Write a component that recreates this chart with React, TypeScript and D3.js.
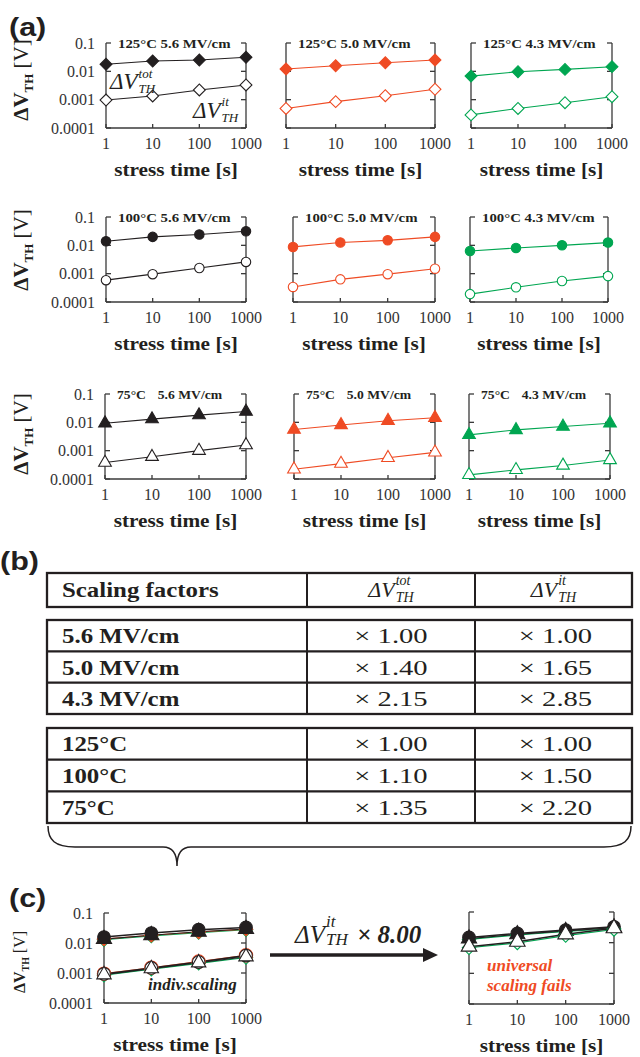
import React, { useEffect, useRef } from 'react';
import * as d3 from 'd3';

// stress times and axis ticks
const times = [1, 10, 100, 1000];
const xTickLabels = ['1', '10', '100', '1000'];
const yTicks = [0.1, 0.01, 0.001, 0.0001];
const yTickLabels = ['0.1', '0.01', '0.001', '0.0001'];

const temps = ['125°C', '100°C', '75°C'];
const fields = ['5.6 MV/cm', '5.0 MV/cm', '4.3 MV/cm'];

// (a) total dVth, one array per field (5.6, 5.0, 4.3)
const tot125 = [
  [0.0177, 0.0231, 0.025, 0.0313],
  [0.0121, 0.0158, 0.0202, 0.025],
  [0.0068, 0.0097, 0.0117, 0.0146],
];
const it125 = [
  [0.00097, 0.00135, 0.0022, 0.0033],
  [0.00049, 0.00085, 0.00138, 0.00233],
  [0.00029, 0.00049, 0.00078, 0.00127],
];
const tot100 = [
  [0.014, 0.0199, 0.024, 0.0315],
  [0.0088, 0.0126, 0.015, 0.0199],
  [0.0063, 0.0081, 0.01, 0.0125],
];
const it100 = [
  [0.00059, 0.00096, 0.00159, 0.0026],
  [0.00034, 0.00063, 0.00096, 0.0015],
  [0.00019, 0.00033, 0.00055, 0.00082],
];
const tot75 = [
  [0.0093, 0.013, 0.018, 0.024],
  [0.0056, 0.0081, 0.0114, 0.0145],
  [0.0036, 0.0054, 0.0071, 0.0093],
];
const it75 = [
  [0.00038, 0.00061, 0.001, 0.00158],
  [0.00022, 0.00035, 0.00056, 0.00087],
  [0.00014, 0.00021, 0.0003, 0.00047],
];

// (b) table
const fieldFactorsTot = ['× 1.00', '× 1.40', '× 2.15'];
const fieldFactorsIt = ['× 1.00', '× 1.65', '× 2.85'];
const tempFactorsTot = ['× 1.00', '× 1.10', '× 1.35'];
const tempFactorsIt = ['× 1.00', '× 1.50', '× 2.20'];

// (c) scaled data, left: individual scaling
const indivTotGreen = [0.0128, 0.0172, 0.0222, 0.0275];
const indivTotOrange = [0.0136, 0.0182, 0.0232, 0.029];
const indivTotTriangle = [0.0135, 0.0182, 0.0236, 0.0292];
const indivTotCircle = [0.0158, 0.0215, 0.0278, 0.033];
const indivItGreen = [0.00084, 0.00134, 0.0021, 0.0033];
const indivItOrange = [0.00095, 0.0015, 0.0024, 0.0039];
const indivItCircle = [0.00093, 0.00147, 0.00232, 0.0038];
const indivItTriangle = [0.00088, 0.0014, 0.0022, 0.0035];
// (c) right: universal x8.00
const univTotGreen = [0.0128, 0.0178, 0.023, 0.029];
const univTotTriangle = [0.0135, 0.0186, 0.024, 0.031];
const univTotCircle = [0.0148, 0.02, 0.0257, 0.033];
const univItGreen = [0.0068, 0.0098, 0.017, 0.027];
const univItTriangle = [0.0074, 0.0107, 0.0187, 0.0294];

const SERIF = '"Liberation Serif", "Times New Roman", serif';
const SANS = '"Liberation Sans", Arial, sans-serif';
const INK = '#231f20';
const AXIS = '#3a3a3a';
const ORANGE = '#ef4b24';
const GREEN = '#00a651';

type Series = { values: number[]; shape: string; color: string; filled: boolean; size?: number; lineColor?: string; lineWidth?: number };

const symbolType = (shape: string) =>
  shape === 'circle' ? d3.symbolCircle : shape === 'triangle' ? d3.symbolTriangle : d3.symbolSquare;

// widen a text node by factor k (the source figure is stretched horizontally)
const stretch = (sel: any, k: number) =>
  sel.each(function (this: SVGTextElement) {
    const len = this.getComputedTextLength();
    d3.select(this).attr('textLength', len * k).attr('lengthAdjust', 'spacingAndGlyphs');
  });

// ΔV with super- and subscript
function mathLabel(g: any, x: number, y: number, sup: string, sub: string, size: number, small: number, supDy: number, subDy: number, center = false) {
  const grp = g.append('g');
  const main = grp.append('text').attr('x', 0).attr('y', y)
    .style('font-family', SERIF).style('font-style', 'italic').style('font-size', size + 'px').attr('fill', INK).text('ΔV');
  const w = (main.node() as SVGTextElement).getComputedTextLength() + 1;
  const a = grp.append('text').attr('x', w).attr('y', y + supDy)
    .style('font-family', SERIF).style('font-style', 'italic').style('font-size', small + 'px').attr('fill', INK).text(sup);
  const b = grp.append('text').attr('x', w).attr('y', y + subDy)
    .style('font-family', SERIF).style('font-style', 'italic').style('font-size', small + 'px').attr('fill', INK).text(sub);
  const total = w + Math.max((a.node() as SVGTextElement).getComputedTextLength(), (b.node() as SVGTextElement).getComputedTextLength());
  grp.attr('transform', `translate(${center ? x - total / 2 : x},0)`);
  return grp;
}

function yLabel(svg: any, cx: number, cy: number, size: number) {
  const t = svg.append('text').attr('transform', `translate(${cx},${cy}) rotate(-90)`)
    .attr('text-anchor', 'middle').style('font-family', SERIF).attr('fill', INK);
  t.append('tspan').style('font-weight', 'bold').style('font-size', size + 'px').text('ΔV');
  t.append('tspan').style('font-weight', 'bold').style('font-size', size * 0.62 + 'px').attr('dy', size * 0.22).text('TH');
  t.append('tspan').style('font-size', size + 'px').attr('dy', -size * 0.22).text(' [V]');
}

type Box = { left: number; right: number; top: number; bottom: number };

function drawPlot(svg: any, box: Box, series: Series[], showY: boolean) {
  const { left, right, top, bottom } = box;
  const x = d3.scaleLog().domain([1, 1000]).range([left, right]);
  const y = d3.scaleLog().domain([0.0001, 0.1]).range([bottom, top]);
  const g = svg.append('g');

  const ax = g.append('g').attr('stroke', AXIS).attr('stroke-width', 1.3).attr('fill', 'none');
  ax.append('line').attr('x1', left).attr('x2', left).attr('y1', top).attr('y2', bottom);
  ax.append('line').attr('x1', right).attr('x2', right).attr('y1', top).attr('y2', bottom);
  ax.append('line').attr('x1', left).attr('x2', right).attr('y1', bottom).attr('y2', bottom);
  yTicks.forEach((t) => {
    ax.append('line').attr('x1', left).attr('x2', left + 5).attr('y1', y(t)).attr('y2', y(t));
    ax.append('line').attr('x1', right - 5).attr('x2', right).attr('y1', y(t)).attr('y2', y(t));
  });
  times.forEach((t) => {
    ax.append('line').attr('x1', x(t)).attr('x2', x(t)).attr('y1', bottom).attr('y2', bottom - 4);
  });

  const line = d3.line<number>().x((_, i) => x(times[i])).y((v) => y(v));
  series.forEach((s) => {
    g.append('path').datum(s.values).attr('d', line).attr('fill', 'none')
      .attr('stroke', s.lineColor || s.color).attr('stroke-width', s.lineWidth || 1.1);
  });
  series.forEach((s) => {
    const sym = d3.symbol().type(symbolType(s.shape)).size(s.size || 70);
    g.append('g').selectAll('path').data(s.values).enter().append('path')
      .attr('d', sym)
      .attr('transform', (v: number, i: number) => `translate(${x(times[i])},${y(v)})${s.shape === 'diamond' ? ' rotate(45)' : ''}`)
      .attr('fill', s.filled ? s.color : '#fff')
      .attr('stroke', s.color).attr('stroke-width', 1.1);
  });

  g.append('g').selectAll('text').data(times).enter().append('text')
    .attr('x', (t: number) => x(t)).attr('y', bottom + 21).attr('text-anchor', 'middle')
    .style('font-family', SERIF).style('font-size', '16px').attr('fill', '#333')
    .text((_: number, i: number) => xTickLabels[i]);
  if (showY) {
    g.append('g').selectAll('text').data(yTicks).enter().append('text')
      .attr('x', left - 11).attr('y', (t: number) => y(t) + 5.5).attr('text-anchor', 'end')
      .style('font-family', SERIF).style('font-size', '16px').attr('fill', '#333')
      .text((_: number, i: number) => yTickLabels[i]);
  }
  const st = g.append('text').attr('x', (left + right) / 2).attr('y', bottom + 48).attr('text-anchor', 'middle')
    .style('font-family', SERIF).style('font-weight', 'bold').style('font-size', '19px').attr('fill', INK)
    .text('stress time [s]');
  stretch(st, 1.12);
  return { x, y, g };
}

const App = () => {
  const ref = useRef<SVGSVGElement>(null);

  useEffect(() => {
    document.body.style.margin = '0';
    const svg = d3.select(ref.current);
    svg.selectAll('*').remove();

    // ---------- (a)
    const rowY = [[43, 128], [217, 302], [394, 479]];
    const colX = [
      [[106, 246], [286, 435], [471, 612]],
      [[106, 246], [293, 435], [470, 608]],
      [[105, 246], [294, 435], [469, 610]],
    ];
    const shapes = ['diamond', 'circle', 'triangle'];
    const colors = [INK, ORANGE, GREEN];
    const totData = [tot125, tot100, tot75];
    const itData = [it125, it100, it75];
    const yLabelCy = [80, 250, 434];

    temps.forEach((temp, r) => {
      fields.forEach((field, c) => {
        const box = { left: colX[r][c][0], right: colX[r][c][1], top: rowY[r][0], bottom: rowY[r][1] };
        const series: Series[] = [
          { values: totData[r][c], shape: shapes[r], color: colors[c], filled: true },
          { values: itData[r][c], shape: shapes[r], color: colors[c], filled: false },
        ];
        drawPlot(svg, box, series, c === 0);
        const title = svg.append('text').attr('x', box.left + 12).attr('y', box.top + 5)
          .style('font-family', SERIF).style('font-weight', 'bold').style('font-size', '13px').attr('fill', INK);
        title.append('tspan').text(temp + ' ');
        title.append('tspan').attr('dx', r === 2 ? 8 : 0).text(field);
        stretch(title, 1.14);
      });
      yLabel(svg, 28, yLabelCy[r], 21);
    });

    mathLabel(svg, 110, 89, 'tot', 'TH', 23, 13, -11, 4);
    mathLabel(svg, 193, 118, 'it', 'TH', 23, 13, -12, 4);

    const lab = (t: string, x: number, y: number) =>
      stretch(svg.append('text').attr('x', x).attr('y', y).style('font-family', SANS).style('font-weight', 'bold')
        .style('font-size', '25px').attr('fill', INK).text(t), 1.22);
    lab('(a)', 9, 36);
    lab('(b)', 0, 570);
    lab('(c)', 9, 907);

    // ---------- (b) table
    const tL = 47, tR = 632, c1 = 307, c2 = 475;
    const tb = svg.append('g');
    const border = (y0: number, y1: number) => {
      tb.append('rect').attr('x', tL).attr('y', y0).attr('width', tR - tL).attr('height', y1 - y0)
        .attr('fill', 'none').attr('stroke', INK).attr('stroke-width', 2.3);
      [c1, c2].forEach((cx) => tb.append('line').attr('x1', cx).attr('x2', cx).attr('y1', y0).attr('y2', y1)
        .attr('stroke', INK).attr('stroke-width', 2));
    };
    border(573, 607);
    const hdr = tb.append('text').attr('x', 62).attr('y', 597).style('font-family', SERIF).style('font-weight', 'bold')
      .style('font-size', '22px').attr('fill', INK).text('Scaling factors');
    stretch(hdr, 1.13);
    mathLabel(tb, (c1 + c2) / 2, 597, 'tot', 'TH', 22, 14, -12, 5, true);
    mathLabel(tb, (c2 + tR) / 2, 597, 'it', 'TH', 22, 14, -12, 5, true);

    const block = (rows: string[], tot: string[], it: string[], y0: number, y1: number) => {
      border(y0, y1);
      const band = d3.scaleBand().domain(rows).range([y0, y1]);
      rows.slice(1).forEach((rw) => tb.append('line').attr('x1', tL).attr('x2', tR)
        .attr('y1', band(rw)!).attr('y2', band(rw)!).attr('stroke', INK).attr('stroke-width', 2.3));
      rows.forEach((rw, i) => {
        const cy = band(rw)! + band.bandwidth() / 2 + 7.5;
        stretch(tb.append('text').attr('x', 62).attr('y', cy).style('font-family', SERIF).style('font-weight', 'bold')
          .style('font-size', '22px').attr('fill', INK).text(rw), 1.13);
        stretch(tb.append('text').attr('x', (c1 + c2) / 2).attr('y', cy).attr('text-anchor', 'middle')
          .style('font-family', SERIF).style('font-size', '22px').attr('fill', INK).text(tot[i]), 1.3);
        stretch(tb.append('text').attr('x', (c2 + tR) / 2 + 2).attr('y', cy).attr('text-anchor', 'middle')
          .style('font-family', SERIF).style('font-size', '22px').attr('fill', INK).text(it[i]), 1.3);
      });
    };
    block(fields, fieldFactorsTot, fieldFactorsIt, 620, 714);
    block(temps, tempFactorsTot, tempFactorsIt, 728, 823);

    // brace under table
    const tip = 177;
    svg.append('path')
      .attr('d', `M${tL + 1},826 C${tL + 1},840 ${tL + 8},847 ${tL + 28},847 L${tip - 14},847 C${tip - 4},847 ${tip},854 ${tip},866 `
        + `C${tip},854 ${tip + 4},847 ${tip + 14},847 L${tR - 28},847 C${tR - 8},847 ${tR - 1},840 ${tR - 1},826`)
      .attr('fill', 'none').attr('stroke', INK).attr('stroke-width', 1.5);

    // ---------- (c)
    const big = 125;
    drawPlot(svg, { left: 104, right: 246, top: 913, bottom: 1003 }, [
      { values: indivTotGreen, shape: 'diamond', color: GREEN, filled: true, size: 90 },
      { values: indivTotOrange, shape: 'diamond', color: ORANGE, filled: true, size: 90 },
      { values: indivTotTriangle, shape: 'triangle', color: INK, filled: true, size: 100 },
      { values: indivTotCircle, shape: 'circle', color: INK, filled: true, size: big, lineWidth: 1.6 },
      { values: indivItGreen, shape: 'diamond', color: GREEN, filled: false, size: 90 },
      { values: indivItOrange, shape: 'circle', color: ORANGE, filled: false, size: big + 15 },
      { values: indivItCircle, shape: 'circle', color: INK, filled: false, size: big, lineWidth: 1.6 },
      { values: indivItTriangle, shape: 'triangle', color: INK, filled: false, size: 90 },
    ], true);
    yLabel(svg, 25, 962, 16);
    svg.append('text').attr('x', 148).attr('y', 990).style('font-family', SERIF).style('font-weight', 'bold')
      .style('font-style', 'italic').style('font-size', '17px').attr('fill', INK).text('indiv.scaling');

    drawPlot(svg, { left: 469, right: 614, top: 912, bottom: 1004 }, [
      { values: univTotGreen, shape: 'diamond', color: GREEN, filled: true, size: 90 },
      { values: univTotTriangle, shape: 'triangle', color: INK, filled: true, size: 100 },
      { values: univTotCircle, shape: 'circle', color: INK, filled: true, size: big, lineWidth: 1.6 },
      { values: univItGreen, shape: 'diamond', color: GREEN, filled: false, size: 90 },
      { values: univItTriangle, shape: 'triangle', color: INK, filled: false, size: 105, lineWidth: 1.6 },
    ], false);
    const uf = svg.append('g').style('font-family', SERIF).style('font-weight', 'bold').style('font-style', 'italic')
      .style('font-size', '17px').attr('fill', ORANGE);
    uf.append('text').attr('x', 487).attr('y', 971).text('universal');
    uf.append('text').attr('x', 487).attr('y', 991).text('scaling fails');

    // arrow
    svg.append('line').attr('x1', 270).attr('x2', 425).attr('y1', 955).attr('y2', 955)
      .attr('stroke', INK).attr('stroke-width', 3.5);
    svg.append('path').attr('d', 'M423,948 L438,955 L423,962 Z').attr('fill', INK);
    mathLabel(svg, 295, 943, 'it', 'TH', 25, 17, -16, 2);
    svg.append('text').attr('x', 357).attr('y', 943).style('font-family', SERIF).style('font-weight', 'bold')
      .style('font-style', 'italic').style('font-size', '25px').attr('fill', INK).text('× 8.00');
  }, []);

  return <svg ref={ref} width={640} height={1057} style={{ display: 'block', background: '#fff' }} />;
};

export default App;
